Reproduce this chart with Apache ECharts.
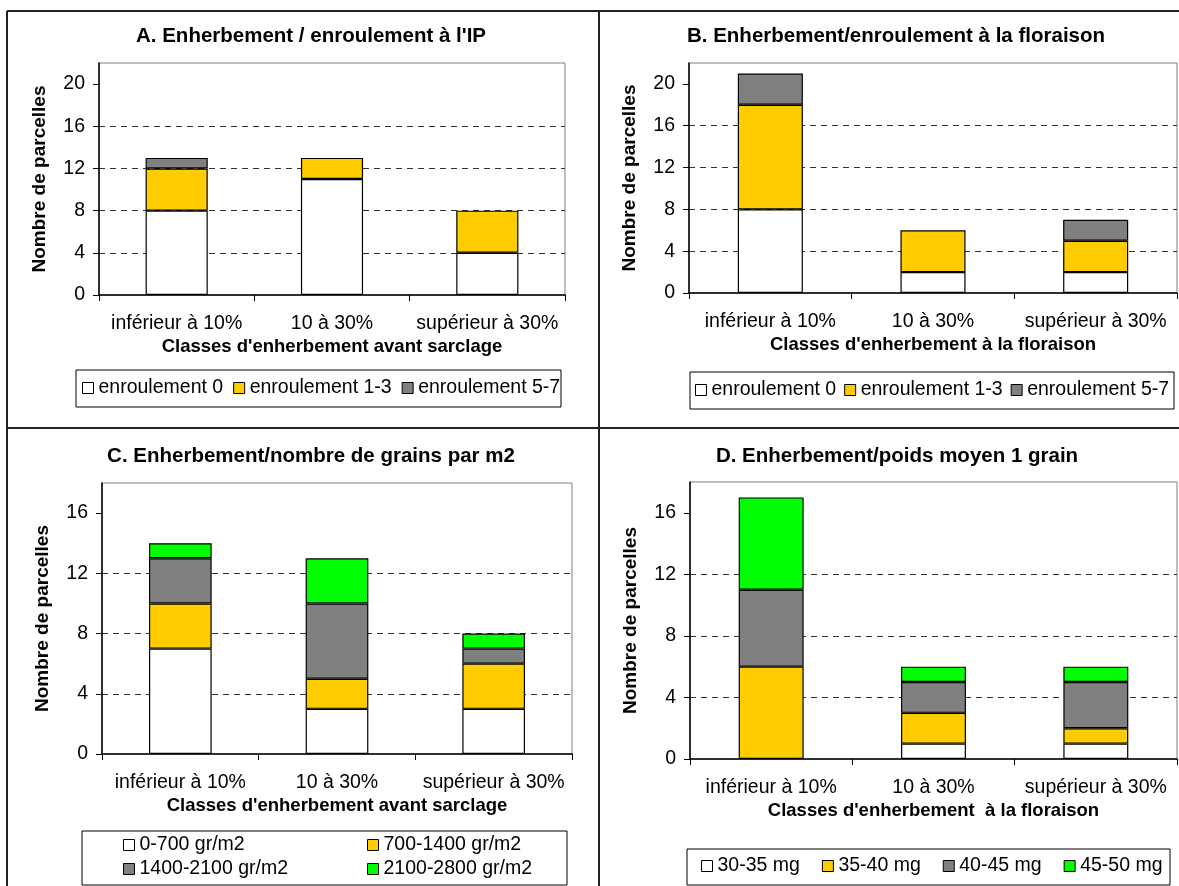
<!DOCTYPE html>
<html>
<head>
<meta charset="utf-8">
<script src="https://cdn.jsdelivr.net/npm/echarts@6/dist/echarts.min.js"></script>
<style>
  html, body { margin: 0; padding: 0; background: #fff; }
  #main { width: 1179px; height: 886px; }
</style>
</head>
<body>
<div id="main"></div>
<script>
// categories (x axis), same for all 4 panels
const categories = ['inférieur à 10%', '10 à 30%', 'supérieur à 30%'];
const ticksAB = [0, 4, 8, 12, 16, 20];
const ticksCD = [0, 4, 8, 12, 16];

// A. enroulement à l'IP
const aNames = ['enroulement 0', 'enroulement 1-3', 'enroulement 5-7'];
const aRoll0 = [8, 11, 4];
const aRoll13 = [4, 2, 4];
const aRoll57 = [1, 0, 0];

// B. enroulement à la floraison
const bRoll0 = [8, 2, 2];
const bRoll13 = [10, 4, 3];
const bRoll57 = [3, 0, 2];

// C. nombre de grains par m2
const cNames = ['0-700 gr/m2', '700-1400 gr/m2', '1400-2100 gr/m2', '2100-2800 gr/m2'];
const c0700 = [7, 3, 3];
const c7001400 = [3, 2, 3];
const c14002100 = [3, 5, 1];
const c21002800 = [1, 3, 1];

// D. poids moyen 1 grain
const dNames = ['30-35 mg', '35-40 mg', '40-45 mg', '45-50 mg'];
const d3035 = [0, 1, 1];
const d3540 = [6, 2, 1];
const d4045 = [5, 2, 3];
const d4550 = [6, 1, 1];

const font = 'Liberation Sans, Arial, sans-serif';
const colors = ['#FFFFFF', '#FFCC00', '#808080', '#00FF00'];

let chart = echarts.init(document.getElementById('main'));

const grids = [
  { left: 99, top: 63, width: 466, height: 232 },
  { left: 689, top: 63, width: 488, height: 230 },
  { left: 102, top: 483, width: 470, height: 271 },
  { left: 690, top: 482, width: 487, height: 277 }
];
const xNames = [
  "Classes d'enherbement avant sarclage",
  "Classes d'enherbement à la floraison",
  "Classes d'enherbement avant sarclage",
  "Classes d'enherbement  à la floraison"
];
const yMax = [22, 22, 18, 18];
const yTicks = [ticksAB, ticksAB, ticksCD, ticksCD];

let xAxes = [], yAxes = [];
grids.forEach((g, i) => {
  xAxes.push({
    type: 'category',
    gridIndex: i,
    data: categories,
    name: xNames[i],
    nameLocation: 'middle',
    nameGap: 42,
    nameTextStyle: { fontFamily: font, fontSize: 18.5, fontWeight: 'bold', color: '#000' },
    axisLine: { lineStyle: { color: '#000', width: 1.5 } },
    axisTick: { show: true, length: 6, lineStyle: { color: '#000' } },
    axisLabel: { fontFamily: font, fontSize: 19.5, color: '#000', margin: 19, interval: 0 }
  });
  yAxes.push({
    type: 'value',
    gridIndex: i,
    min: 0,
    max: yMax[i],
    interval: 4,
    name: 'Nombre de parcelles',
    nameLocation: 'middle',
    nameGap: 50,
    nameTextStyle: { fontFamily: font, fontSize: 19, fontWeight: 'bold', color: '#000' },
    axisLine: { show: true, lineStyle: { color: '#000', width: 1.5 } },
    axisTick: { show: true, length: 6, customValues: yTicks[i], lineStyle: { color: '#000' } },
    axisLabel: { fontFamily: font, fontSize: 19.5, color: '#000', margin: 14, customValues: yTicks[i] },
    splitLine: { show: true, showMaxLine: false, showMinLine: false, lineStyle: { color: '#333', type: [6, 5], width: 1 } }
  });
});

let series = [];
const addPanel = (idx, names, arrays) => {
  arrays.forEach((arr, k) => {
    series.push({
      name: names[k],
      type: 'bar',
      stack: 'p' + idx,
      xAxisIndex: idx,
      yAxisIndex: idx,
      barWidth: '40%',
      data: arr.map(v => v === 0 ? '-' : v),
      itemStyle: { color: colors[k], borderColor: '#000', borderWidth: 1.2 }
    });
  });
};
addPanel(0, aNames, [aRoll0, aRoll13, aRoll57]);
addPanel(1, aNames, [bRoll0, bRoll13, bRoll57]);
addPanel(2, cNames, [c0700, c7001400, c14002100, c21002800]);
addPanel(3, dNames, [d3035, d3540, d4045, d4550]);

const legendText = { fontFamily: font, fontSize: 19.5, color: '#000' };
const legendBase = {
  padding: 0,
  itemWidth: 11,
  itemHeight: 11,
  itemGap: 10,
  icon: 'rect',
  itemStyle: { borderColor: '#000', borderWidth: 1 },
  textStyle: legendText,
  selectedMode: false
};

let option = {
  animation: false,
  backgroundColor: '#fff',
  title: [
    { text: "A. Enherbement / enroulement à l'IP", left: 311, top: 26 },
    { text: 'B. Enherbement/enroulement à la floraison', left: 896, top: 26 },
    { text: 'C. Enherbement/nombre de grains par m2', left: 311, top: 446 },
    { text: 'D. Enherbement/poids moyen 1 grain', left: 897, top: 446 }
  ].map(t => Object.assign(t, {
    textAlign: 'center',
    padding: 0,
    textStyle: { fontFamily: font, fontSize: 20.5, fontWeight: 'bold', color: '#000' }
  })),
  grid: grids.map(g => Object.assign({ show: true, borderColor: '#808080', borderWidth: 1, backgroundColor: '#fff' }, g)),
  xAxis: xAxes,
  yAxis: yAxes,
  legend: [
    Object.assign({}, legendBase, { data: aNames, left: 82, top: 378 }),
    Object.assign({}, legendBase, { data: aNames, left: 695, top: 380, itemGap: 8, width: 484 }),
    Object.assign({}, legendBase, { data: [cNames[0], cNames[2]], orient: 'vertical', itemGap: 4, left: 123, top: 835 }),
    Object.assign({}, legendBase, { data: [cNames[1], cNames[3]], orient: 'vertical', itemGap: 4, left: 367, top: 835 }),
    Object.assign({}, legendBase, { data: dNames, left: 701, top: 856, itemGap: 22 })
  ],
  graphic: [
    // panel frame lines
    { type: 'line', shape: { x1: 7, y1: 11, x2: 1179, y2: 11 }, style: { stroke: '#222', lineWidth: 2 } },
    { type: 'line', shape: { x1: 7, y1: 11, x2: 7, y2: 886 }, style: { stroke: '#222', lineWidth: 2 } },
    { type: 'line', shape: { x1: 599, y1: 11, x2: 599, y2: 886 }, style: { stroke: '#222', lineWidth: 2 } },
    { type: 'line', shape: { x1: 7, y1: 428, x2: 1179, y2: 428 }, style: { stroke: '#222', lineWidth: 2 } },
    // legend boxes
    { type: 'rect', shape: { x: 76, y: 370, width: 485, height: 37 }, style: { fill: 'none', stroke: '#000', lineWidth: 1 } },
    { type: 'rect', shape: { x: 690, y: 372, width: 484, height: 37 }, style: { fill: 'none', stroke: '#000', lineWidth: 1 } },
    { type: 'rect', shape: { x: 82, y: 831, width: 485, height: 54 }, style: { fill: 'none', stroke: '#000', lineWidth: 1 } },
    { type: 'rect', shape: { x: 687, y: 849, width: 483, height: 36 }, style: { fill: 'none', stroke: '#000', lineWidth: 1 } }
  ],
  series: series
};

chart.setOption(option);
</script>
</body>
</html>
